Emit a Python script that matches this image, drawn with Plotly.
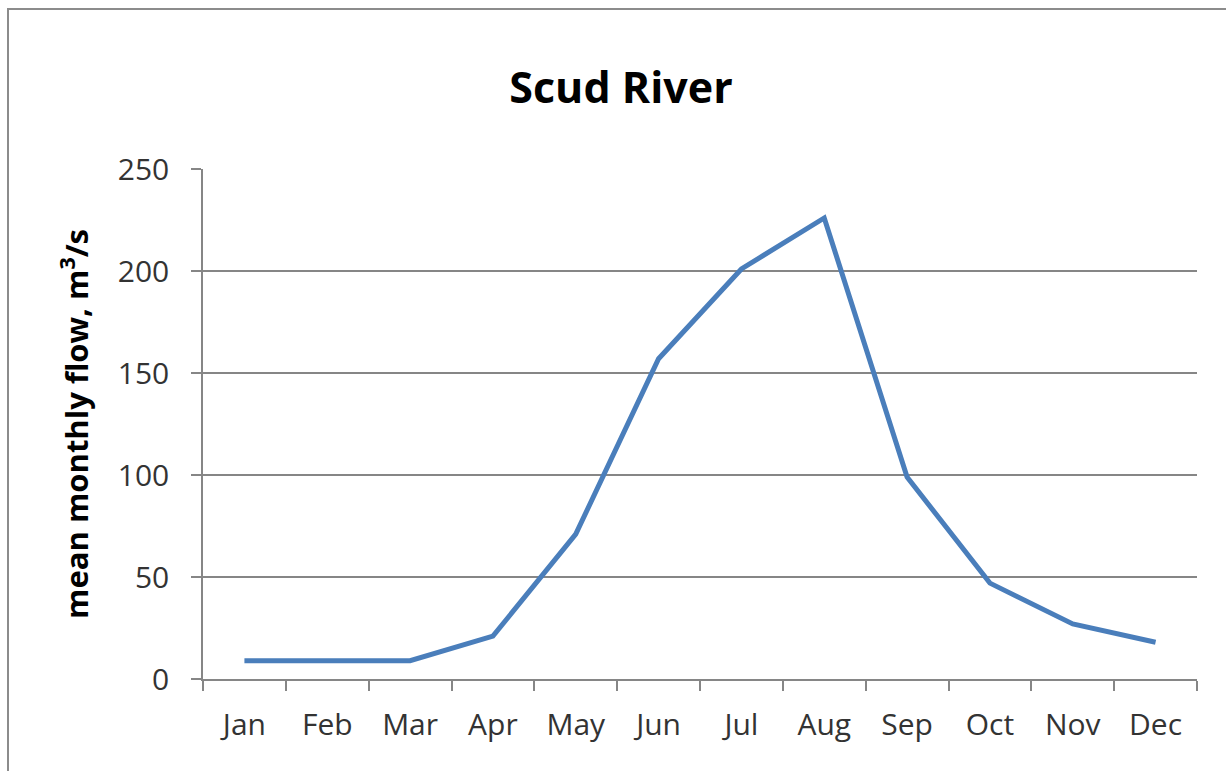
import plotly.graph_objects as go

# Mean monthly discharge of the Scud River
months = ["Jan", "Feb", "Mar", "Apr", "May", "Jun",
          "Jul", "Aug", "Sep", "Oct", "Nov", "Dec"]
flow = [9, 9, 9, 21, 71, 157, 201, 226, 99, 47, 27, 18]
y_ticks = [0, 50, 100, 150, 200, 250]

W, H = 1226, 771
ML, MR, MT, MB = 203, 29, 169, 92
PW, PH = W - ML - MR, H - MT - MB

GRID = "#868686"
TXT = "#333333"
FONT = "Open Sans, DejaVu Sans, sans-serif"

fig = go.Figure()
fig.add_trace(go.Scatter(
    x=months, y=flow, mode="lines",
    line=dict(color="#4a7ebb", width=5),
    showlegend=False, hoverinfo="x+y",
))

# outer chart frame (left/top edges visible; right/bottom run past the page)
def px_x(p):
    return (p - ML) / PW

def px_y(p):
    return (H - MB - p) / PH

fig.add_shape(type="rect", xref="paper", yref="paper",
              x0=px_x(8), x1=px_x(W + 10), y0=px_y(H + 10), y1=px_y(9),
              line=dict(color="#8c8c8c", width=2), fillcolor="rgba(0,0,0,0)",
              layer="below")

fig.update_layout(
    width=W, height=H,
    margin=dict(l=ML, r=MR, t=MT, b=MB),
    paper_bgcolor="white", plot_bgcolor="white",
    title=dict(text="<b>Scud River</b>", x=621 / W, xanchor="center",
               y=1 - 88 / H, yanchor="middle",
               font=dict(family=FONT, size=43, color="#000000")),
    xaxis=dict(
        type="category", range=[-0.5, 11.5],
        showgrid=False, showline=True, linecolor=GRID, linewidth=1.5,
        ticks="outside", ticklen=10, tickcolor=GRID, tickwidth=1.5,
        tickson="boundaries", ticklabelstandoff=18,
        tickfont=dict(family=FONT, size=30, color=TXT),
        fixedrange=True,
    ),
    yaxis=dict(
        range=[0, 250], tickvals=y_ticks,
        showgrid=True, gridcolor=GRID, gridwidth=1.5,
        showline=True, linecolor=GRID, linewidth=1.5,
        ticks="outside", ticklen=10, tickcolor=GRID, tickwidth=1.5,
        zeroline=False, ticklabelstandoff=16,
        tickfont=dict(family=FONT, size=30, color=TXT),
        title=dict(text="<b>mean monthly flow, m<sup>3</sup>/s</b>",
                   font=dict(family=FONT, size=31, color="#000000"),
                   standoff=20),
        fixedrange=True,
    ),
)

fig.write_html("out.html")
